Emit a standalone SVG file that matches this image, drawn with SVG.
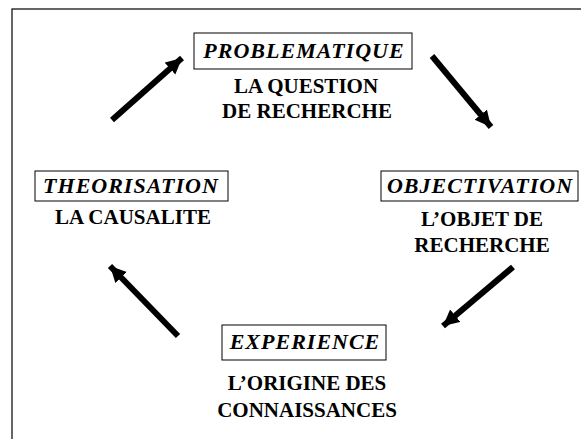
<svg xmlns="http://www.w3.org/2000/svg" width="581" height="439" viewBox="0 0 581 439">
  <defs>
    <marker id="head" markerUnits="userSpaceOnUse" markerWidth="20" markerHeight="20" refX="16" refY="8" orient="auto">
      <path d="M0,0 L16,8 L0,16 Z" fill="#000"/>
    </marker>
  </defs>
  <rect x="0" y="0" width="581" height="439" fill="#fff"/>
  <rect x="12" y="9" width="580" height="440" fill="none" stroke="#000" stroke-width="1.2"/>

  <g id="connectors" stroke="#000" stroke-width="6" fill="none" marker-end="url(#head)">
    <line x1="112" y1="120" x2="182" y2="58"/>
    <line x1="432" y1="56" x2="491" y2="127"/>
    <line x1="513" y1="267" x2="443" y2="326"/>
    <line x1="178" y1="336" x2="110" y2="266"/>
  </g>

  <g id="problematique">
    <rect x="194" y="33" width="218" height="36" fill="#fff" stroke="#000" stroke-width="1"/>
    <text x="304" y="58" font-family="Liberation Serif" font-size="22" font-weight="bold" font-style="italic" letter-spacing="1" text-anchor="middle">PROBLEMATIQUE</text>
    <text x="306" y="93" font-family="Liberation Serif" font-size="21" font-weight="bold" text-anchor="middle">LA QUESTION</text>
    <text x="307" y="118" font-family="Liberation Serif" font-size="21" font-weight="bold" text-anchor="middle">DE RECHERCHE</text>
  </g>

  <g id="objectivation">
    <rect x="381" y="171" width="197" height="30" fill="#fff" stroke="#000" stroke-width="1"/>
    <text x="480" y="193" font-family="Liberation Serif" font-size="22" font-weight="bold" font-style="italic" letter-spacing="1" text-anchor="middle">OBJECTIVATION</text>
    <text x="482" y="226" font-family="Liberation Serif" font-size="21" font-weight="bold" text-anchor="middle">L&#8217;OBJET DE</text>
    <text x="482" y="252" font-family="Liberation Serif" font-size="21" font-weight="bold" text-anchor="middle">RECHERCHE</text>
  </g>

  <g id="experience">
    <rect x="222" y="325" width="164" height="35" fill="#fff" stroke="#000" stroke-width="1"/>
    <text x="305" y="349" font-family="Liberation Serif" font-size="22" font-weight="bold" font-style="italic" letter-spacing="1" text-anchor="middle">EXPERIENCE</text>
    <text x="307" y="390" font-family="Liberation Serif" font-size="21" font-weight="bold" text-anchor="middle">L&#8217;ORIGINE DES</text>
    <text x="307" y="417" font-family="Liberation Serif" font-size="21" font-weight="bold" text-anchor="middle">CONNAISSANCES</text>
  </g>

  <g id="theorisation">
    <rect x="35" y="171" width="193" height="30" fill="#fff" stroke="#000" stroke-width="1"/>
    <text x="131" y="193" font-family="Liberation Serif" font-size="22" font-weight="bold" font-style="italic" letter-spacing="1" text-anchor="middle">THEORISATION</text>
    <text x="133" y="224" font-family="Liberation Serif" font-size="21" font-weight="bold" text-anchor="middle">LA CAUSALITE</text>
  </g>
</svg>
